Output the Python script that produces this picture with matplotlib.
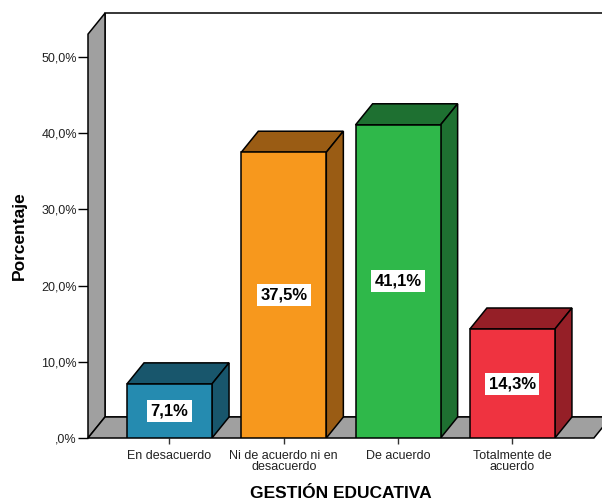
import matplotlib.pyplot as plt
from matplotlib.patches import Polygon, Rectangle

plt.rcParams['font.family'] = ['Liberation Sans', 'DejaVu Sans']

# Gestión educativa: porcentaje por categoría de respuesta
categorias = ['En desacuerdo', 'Ni de acuerdo ni en\ndesacuerdo', 'De acuerdo', 'Totalmente de\nacuerdo']
porcentajes = [7.1, 37.5, 41.1, 14.3]
color_frente = ['#258bb0', '#f7981d', '#2fb84a', '#ef3340']
color_lado = ['#18566c', '#9a5c14', '#1e7031', '#951f27']
ticks_y = [0, 10, 20, 30, 40, 50]
etiquetas_y = [',0%', '10,0%', '20,0%', '30,0%', '40,0%', '50,0%']

# geometría del efecto 3D (en unidades de datos)
ancho = 0.744
dx, dy = 0.149, 2.76
x_min, x_max = -0.713, 3.95
x_suelo = 3.713
alto_pared = 53.0
px_x, px_y = 114.3, 7.62

fig = plt.figure(figsize=(6.02, 5.04), dpi=100)
W, H = 602, 504
ax = fig.add_axes([88 / W, 66 / H, (x_max - x_min) * px_x / W,
                   (alto_pared + dy) * px_y / H])
ax.set_xlim(x_min, x_max)
ax.set_ylim(0, alto_pared + dy)
for s in ax.spines.values():
    s.set_visible(False)
ax.patch.set_visible(False)

gris = '#a0a0a0'
lw = 1.1

# pared del fondo
ax.add_patch(Rectangle((x_min + dx, dy), x_max - x_min, alto_pared,
                       facecolor='white', edgecolor='black', lw=lw, zorder=1, clip_on=False))
# pared lateral izquierda
ax.add_patch(Polygon([(x_min, 0), (x_min, alto_pared), (x_min + dx, alto_pared + dy),
                      (x_min + dx, dy)], closed=True, facecolor=gris, edgecolor='black',
                     lw=lw, zorder=2, clip_on=False))
# suelo
ax.add_patch(Polygon([(x_min, 0), (x_suelo, 0), (x_suelo + dx, dy), (x_min + dx, dy)],
                     closed=True, facecolor=gris, edgecolor='black', lw=lw, zorder=2,
                     clip_on=False))

for i, v in enumerate(porcentajes):
    x0, x1 = i - ancho / 2, i + ancho / 2
    ax.add_patch(Rectangle((x0, 0), ancho, v, facecolor=color_frente[i],
                           edgecolor='black', lw=lw, zorder=4))
    ax.add_patch(Polygon([(x0, v), (x1, v), (x1 + dx, v + dy), (x0 + dx, v + dy)],
                         closed=True, facecolor=color_lado[i], edgecolor='black',
                         lw=lw, zorder=3))
    ax.add_patch(Polygon([(x1, 0), (x1 + dx, dy), (x1 + dx, v + dy), (x1, v)],
                         closed=True, facecolor=color_lado[i], edgecolor='black',
                         lw=lw, zorder=3))
    ax.text(i, v / 2, f'{v:.1f}%'.replace('.', ','), ha='center', va='center',
            fontsize=12, fontweight='bold', zorder=5,
            bbox=dict(facecolor='white', edgecolor='none', pad=2.5))

ax.set_yticks(ticks_y)
ax.set_yticklabels(etiquetas_y)
ax.set_xticks(range(len(categorias)))
ax.set_xticklabels(categorias, linespacing=0.95)
ax.tick_params(axis='y', length=7, width=1, pad=1, labelsize=9, colors='black',
               labelcolor='#222222')
ax.tick_params(axis='x', length=4, width=1, pad=4.5, labelsize=9, colors='#333333',
               labelcolor='#222222')

fig.text(19 / W, 1 - 236 / H, 'Porcentaje', rotation=90, ha='center', va='center',
         fontsize=12.5, fontweight='bold')
fig.text(341 / W, 1 - 494 / H, 'GESTIÓN EDUCATIVA', ha='center', va='center',
         fontsize=12.5, fontweight='bold')

fig.savefig('out.png', dpi=100, facecolor='white')
